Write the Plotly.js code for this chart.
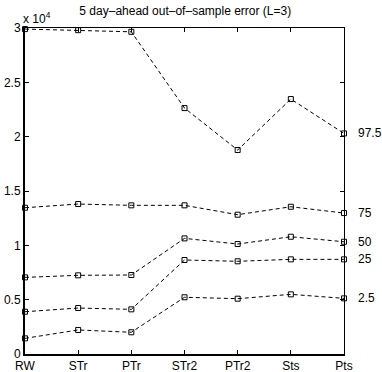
<!DOCTYPE html>
<html><head><meta charset="utf-8">
<script src="https://cdn.plot.ly/plotly-3.0.1.min.js"></script>
<style>html,body{margin:0;padding:0;background:#fff;}#c{width:382px;height:372px;}</style>
</head><body><div id="c"></div>
<script>
var categories = ["RW","STr","PTr","STr2","PTr2","Sts","Pts"];
var seriesLabels = ["97.5","75","50","25","2.5"];
var s975 = [29900, 29800, 29650, 22630, 18770, 23460, 20300];
var s75  = [13460, 13800, 13680, 13680, 12820, 13550, 12970];
var s50  = [7050, 7240, 7270, 10640, 10120, 10790, 10330];
var s25  = [3890, 4230, 4110, 8650, 8530, 8710, 8710];
var s25b = [1440, 2210, 2000, 5220, 5090, 5490, 5120];
var yTickVals = [0, 5000, 10000, 15000, 20000, 25000, 30000];
var yTickText = ["0","0.5","1","1.5","2","2.5","3"];
var series = [s975, s75, s50, s25, s25b];
var xs = categories.map(function(_, i){return i;});
var FONT = {family:'Liberation Sans, Arial', size:12, color:'#000'};

var traces = series.map(function(s, k){
  return {x: xs, y: s, type:'scatter', mode:'lines+markers', name: seriesLabels[k],
    line:{color:'#000', width:1, dash:'4px,3px'},
    marker:{symbol:'square-open', size:5, color:'#000', line:{width:1, color:'#000'}},
    hoverinfo:'skip', cliponaxis:false};
});
// companion trace to anchor the top/right frame axes
traces.push({x: xs, y: s975, xaxis:'x2', yaxis:'y2', type:'scatter', mode:'none', hoverinfo:'skip', showlegend:false});

var ann = series.map(function(s, k){
  return {x: xs[xs.length-1], y: s[s.length-1], xref:'x', yref:'y', text: seriesLabels[k],
    showarrow:false, xanchor:'left', xshift:12, font:FONT};
});
ann.push({x:0, y:1, xref:'paper', yref:'paper', xanchor:'left', yanchor:'bottom', xshift:-4, yshift:0,
  text:'x 10<sup>4</sup>', showarrow:false, font:FONT});

var layout = {
  width:382, height:372,
  margin:{l:25, r:38, t:28, b:18, pad:0},
  paper_bgcolor:'#fff', plot_bgcolor:'rgba(0,0,0,0)',
  showlegend:false,
  title:{text:'5 day\u2013ahead out\u2013of\u2013sample error (L=3)', x:0.485, xanchor:'center', y:0.982, yanchor:'top', font:FONT},
  xaxis:{range:[0,6], tickvals:xs, ticktext:categories, ticks:'inside', ticklen:4, tickcolor:'#000',
    showline:true, linecolor:'#000', linewidth:2, showgrid:false, zeroline:false, tickfont:FONT},
  yaxis:{range:[0,30000], tickvals:yTickVals, ticktext:yTickText, ticks:'inside', ticklen:4, tickcolor:'#000',
    showline:true, linecolor:'#000', linewidth:2, showgrid:false, zeroline:false, tickfont:FONT},
  xaxis2:{range:[0,6], overlaying:'x', side:'top', anchor:'y2', tickvals:xs, showticklabels:false, ticks:'inside', ticklen:4,
    tickcolor:'#000', showline:true, linecolor:'#000', linewidth:1, showgrid:false, zeroline:false},
  yaxis2:{range:[0,30000], overlaying:'y', side:'right', anchor:'x2', tickvals:yTickVals, showticklabels:false, ticks:'inside', ticklen:4,
    tickcolor:'#000', showline:true, linecolor:'#000', linewidth:1, showgrid:false, zeroline:false},
  annotations: ann
};
Plotly.newPlot('c', traces, layout, {displayModeBar:false, staticPlot:true});
</script></body></html>
